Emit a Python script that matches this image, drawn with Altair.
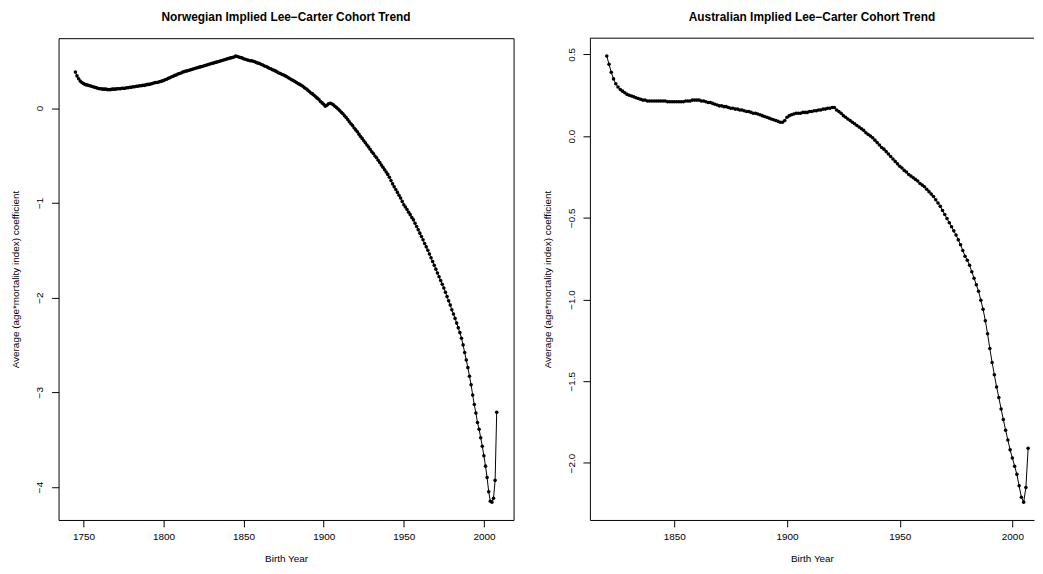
import altair as alt
import pandas as pd

FONT = "Liberation Sans"

# ---------------- data ----------------
nor_years = list(range(1745, 2009))
nor_values = [
    0.38, 0.34, 0.31, 0.285, 0.27,                       # 1745-1749
    0.26, 0.25, 0.245, 0.24, 0.235, 0.23, 0.225, 0.22, 0.215, 0.21,   # 1750-1759
    0.205, 0.205, 0.20, 0.20, 0.20, 0.195, 0.195, 0.195, 0.20, 0.20,  # 1760-1769
    0.20, 0.205, 0.205, 0.205, 0.21, 0.21, 0.21, 0.215, 0.215, 0.22,  # 1770-1779
    0.22, 0.225, 0.225, 0.23, 0.23, 0.235, 0.235, 0.24, 0.24, 0.245,  # 1780-1789
    0.25, 0.25, 0.255, 0.26, 0.265, 0.27, 0.27, 0.275, 0.28, 0.285,   # 1790-1799
    0.29, 0.30, 0.305, 0.315, 0.32, 0.33, 0.335, 0.345, 0.35, 0.36,   # 1800-1809
    0.365, 0.37, 0.38, 0.385, 0.39, 0.395, 0.40, 0.405, 0.41, 0.415,  # 1810-1819
    0.42, 0.425, 0.43, 0.435, 0.44, 0.445, 0.45, 0.455, 0.46, 0.465,  # 1820-1829
    0.47, 0.475, 0.48, 0.485, 0.49, 0.495, 0.50, 0.505, 0.51, 0.515,  # 1830-1839
    0.52, 0.525, 0.53, 0.535, 0.54, 0.55, 0.545, 0.54, 0.535, 0.53,   # 1840-1849
    0.52, 0.515, 0.51, 0.505, 0.50, 0.50, 0.495, 0.49, 0.48, 0.475,   # 1850-1859
    0.47, 0.46, 0.455, 0.445, 0.44, 0.43, 0.42, 0.415, 0.405, 0.40,   # 1860-1869
    0.39, 0.38, 0.37, 0.365, 0.355, 0.35, 0.34, 0.33, 0.32, 0.31,     # 1870-1879
    0.30, 0.29, 0.28, 0.27, 0.26, 0.25, 0.24, 0.23, 0.215, 0.205,     # 1880-1889
    0.19, 0.175, 0.16, 0.15, 0.135, 0.12, 0.105, 0.09, 0.07, 0.055,   # 1890-1899
    0.04, 0.02, 0.03, 0.045, 0.05, 0.045, 0.035, 0.02, 0.005, -0.01,  # 1900-1909
    -0.025, -0.045, -0.06, -0.08, -0.10, -0.12, -0.145, -0.165, -0.185, -0.21,   # 1910-1919
    -0.23, -0.25, -0.275, -0.30, -0.32, -0.345, -0.365, -0.39, -0.41, -0.435,    # 1920-1929
    -0.46, -0.48, -0.505, -0.525, -0.55, -0.575, -0.60, -0.625, -0.65, -0.675,   # 1930-1939
    -0.70, -0.73, -0.765, -0.80, -0.83, -0.86, -0.89, -0.92, -0.95, -0.985,      # 1940-1949
    -1.02, -1.045, -1.07, -1.10, -1.125, -1.155, -1.18, -1.215, -1.25, -1.285,   # 1950-1959
    -1.32, -1.355, -1.39, -1.43, -1.465, -1.50, -1.54, -1.58, -1.62, -1.66,      # 1960-1969
    -1.70, -1.74, -1.78, -1.82, -1.86, -1.90, -1.945, -1.99, -2.035, -2.08,      # 1970-1979
    -2.13, -2.175, -2.22, -2.27, -2.32, -2.37, -2.43, -2.50, -2.58, -2.66,       # 1980-1989
    -2.74, -2.83, -2.92, -3.03, -3.13, -3.22, -3.32, -3.39, -3.48, -3.57,       # 1990-1999
    -3.67, -3.78, -3.90, -4.05, -4.15, -4.16, -4.12, -3.93, -3.21,              # 2000-2008
]

aus_years = list(range(1820, 2008))
aus_values = [
    0.49, 0.44, 0.39, 0.35, 0.32, 0.30, 0.285, 0.275, 0.265, 0.255,            # 1820-1829
    0.25, 0.245, 0.24, 0.235, 0.23, 0.225, 0.22, 0.22, 0.215, 0.215,          # 1830-1839
    0.215, 0.215, 0.215, 0.215, 0.215, 0.215, 0.215, 0.21, 0.21, 0.21,        # 1840-1849
    0.21, 0.21, 0.21, 0.21, 0.21, 0.215, 0.215, 0.215, 0.22, 0.22,            # 1850-1859
    0.22, 0.22, 0.215, 0.215, 0.21, 0.205, 0.205, 0.20, 0.195, 0.19,          # 1860-1869
    0.185, 0.185, 0.18, 0.18, 0.175, 0.17, 0.17, 0.165, 0.165, 0.16,          # 1870-1879
    0.16, 0.155, 0.15, 0.15, 0.145, 0.14, 0.14, 0.135, 0.13, 0.125,           # 1880-1889
    0.12, 0.115, 0.11, 0.105, 0.10, 0.095, 0.09, 0.085, 0.085, 0.095,         # 1890-1899
    0.115, 0.125, 0.13, 0.135, 0.14, 0.14, 0.14, 0.145, 0.145, 0.145,         # 1900-1909
    0.15, 0.15, 0.155, 0.155, 0.16, 0.16, 0.165, 0.165, 0.17, 0.17,           # 1910-1919
    0.175, 0.175, 0.16, 0.15, 0.14, 0.125, 0.115, 0.105, 0.095, 0.085,        # 1920-1929
    0.075, 0.065, 0.055, 0.045, 0.035, 0.02, 0.01, 0.0, -0.01, -0.025,        # 1930-1939
    -0.04, -0.055, -0.07, -0.08, -0.095, -0.11, -0.125, -0.14, -0.155, -0.17, # 1940-1949
    -0.185, -0.195, -0.21, -0.22, -0.235, -0.245, -0.255, -0.265, -0.275, -0.29,   # 1950-1959
    -0.30, -0.31, -0.325, -0.34, -0.355, -0.37, -0.39, -0.41, -0.43, -0.455,       # 1960-1969
    -0.48, -0.505, -0.53, -0.555, -0.58, -0.605, -0.635, -0.665, -0.70, -0.735,    # 1970-1979
    -0.76, -0.79, -0.83, -0.87, -0.91, -0.95, -1.005, -1.06, -1.13, -1.21,         # 1980-1989
    -1.30, -1.385, -1.46, -1.535, -1.60, -1.67, -1.735, -1.80, -1.86, -1.92,       # 1990-1999
    -1.97, -2.02, -2.07, -2.14, -2.21, -2.24, -2.15, -1.91,                        # 2000-2007
]

nor_xticks = [1750, 1800, 1850, 1900, 1950, 2000]
aus_xticks = [1850, 1900, 1950, 2000]
nor_yticks = [-4, -3, -2, -1, 0]
aus_yticks = [-2.0, -1.5, -1.0, -0.5, 0.0, 0.5]

nor_title = "Norwegian Implied Lee\u2212Carter Cohort Trend"
aus_title = "Australian Implied Lee\u2212Carter Cohort Trend"
x_title = "Birth Year"
y_title = "Average (age*mortality index) coefficient"

assert len(nor_years) == len(nor_values)
assert len(aus_years) == len(aus_values)

H = 486


def panel(years, values, title, xdom, ydom, xticks, yticks, yfmt, width, framed):
    df = pd.DataFrame({"year": years, "value": values})
    x = alt.X(
        "year:Q",
        scale=alt.Scale(domain=xdom, nice=False, zero=False),
        axis=alt.Axis(values=xticks, format="d", title=x_title,
                      domain=not framed, labelPadding=5, titlePadding=12),
    )
    y = alt.Y(
        "value:Q",
        scale=alt.Scale(domain=ydom, nice=False, zero=False),
        axis=alt.Axis(values=yticks, format=yfmt, title=y_title,
                      domain=not framed, labelAngle=270, labelAlign="center",
                      labelBaseline="bottom", labelPadding=7, titlePadding=14),
    )
    base = alt.Chart(df).encode(x=x, y=y)
    line = base.mark_line(color="black", strokeWidth=1)
    pts = base.mark_circle(color="black", size=13, opacity=1)
    layers = [line, pts]
    if not framed:
        top = alt.Chart(pd.DataFrame({"k": [0]})).mark_rule(
            color="black", strokeWidth=1
        ).encode(x=alt.value(0), x2=alt.value(width), y=alt.value(0))
        layers.append(top)
    ch = alt.layer(*layers).properties(
        width=width, height=H,
        title=alt.TitleParams(title, font=FONT, fontSize=12, fontWeight="bold",
                              color="black", anchor="middle", frame="group",
                              baseline="bottom", offset=2),
    )
    if not framed:
        ch = ch.properties(view=alt.ViewBackground(stroke="transparent"))
    return ch


left = panel(nor_years, nor_values, nor_title, [1734.48, 2018.52], [-4.348, 0.738],
             nor_xticks, nor_yticks, "d", 459, True)
right = panel(aus_years, aus_values, aus_title, [1812.52, 2009.6], [-2.349, 0.599],
              aus_xticks, aus_yticks, ".1f", 448, False)

chart = alt.hconcat(left, right, spacing=27).properties(
    padding={"left": 2, "top": 0, "right": 0, "bottom": 0},
    background="white",
).configure_view(
    stroke="black", strokeWidth=1
).configure_axis(
    grid=False,
    labelFont=FONT, labelFontSize=10, labelColor="black",
    titleFont=FONT, titleFontSize=10, titleFontWeight="normal", titleColor="black",
    tickColor="black", tickSize=7, tickWidth=1,
    domainColor="black", domainWidth=1,
)

chart.save("out.html", embed_options={"renderer": "svg", "actions": False})
